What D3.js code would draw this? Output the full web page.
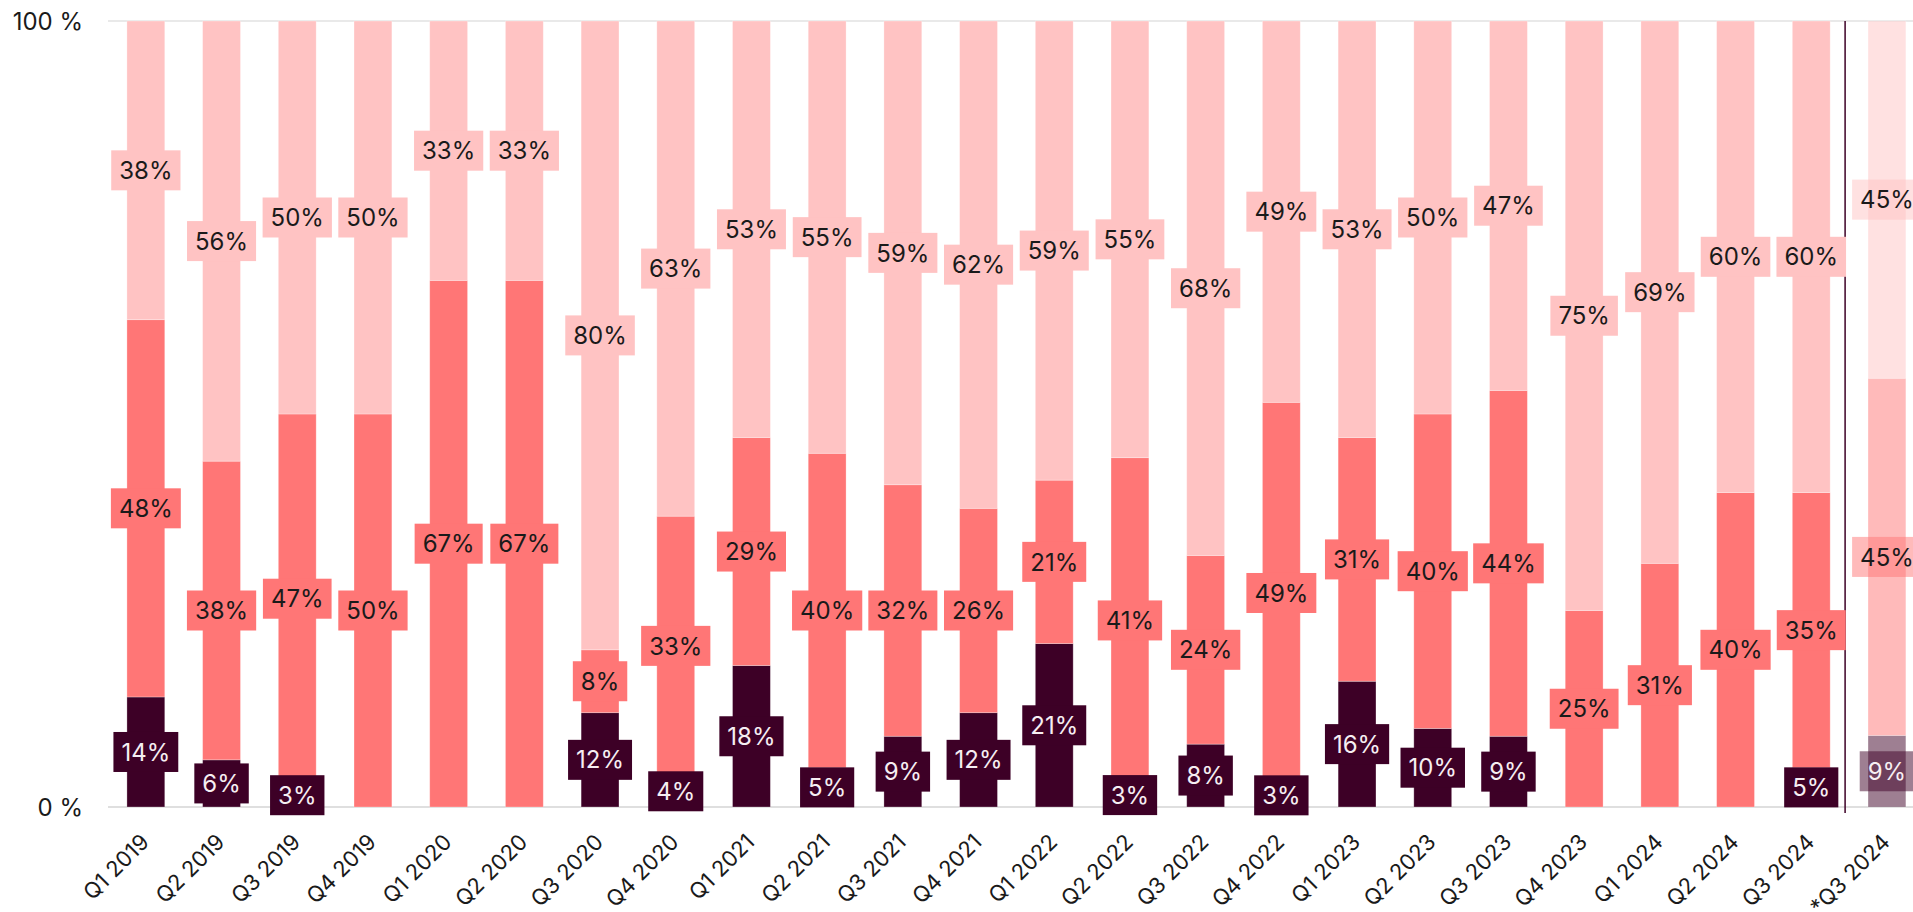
<!DOCTYPE html>
<html>
<head>
<meta charset="utf-8">
<script src="https://cdn.jsdelivr.net/npm/d3@7"></script>
<style>
  html, body { margin: 0; padding: 0; background: #fff; overflow: hidden; }
  svg { display: block; font-family: Inter, "Noto Sans", sans-serif; }
</style>
</head>
<body>
<div id="viz"></div>
<script>
const width = 1913;
const height = 912;
const margin = { top: 21, left: 108, bottom: 105 };
const plotBottom = 807;

const quarters = ['Q1 2019', 'Q2 2019', 'Q3 2019', 'Q4 2019', 'Q1 2020', 'Q2 2020', 'Q3 2020', 'Q4 2020',
  'Q1 2021', 'Q2 2021', 'Q3 2021', 'Q4 2021', 'Q1 2022', 'Q2 2022', 'Q3 2022', 'Q4 2022',
  'Q1 2023', 'Q2 2023', 'Q3 2023', 'Q4 2023', 'Q1 2024', 'Q2 2024', 'Q3 2024', '*Q3 2024'];

// bottom segment (dark), middle segment, top segment (light)
const darkValues  = [14, 6, 3, 0, 0, 0, 12, 4, 18, 5, 9, 12, 21, 3, 8, 3, 16, 10, 9, 0, 0, 0, 5, 9];
const midValues   = [48, 38, 47, 50, 67, 67, 8, 33, 29, 40, 32, 26, 21, 41, 24, 49, 31, 40, 44, 25, 31, 40, 35, 45];
const lightValues = [38, 56, 50, 50, 33, 33, 80, 63, 53, 55, 59, 62, 59, 55, 68, 49, 53, 50, 47, 75, 69, 60, 60, 45];

const yTicks = [0, 1];
const keys = ['dark', 'mid', 'light'];

const rows = quarters.map((q, i) => ({
  quarter: q, dark: darkValues[i], mid: midValues[i], light: lightValues[i]
}));

const series = d3.stack().keys(keys).offset(d3.stackOffsetExpand)(rows);

const color = d3.scaleOrdinal()
  .domain(keys)
  .range(['#3d0026', '#ff7676', '#ffc3c3']);
const textColor = { dark: '#f6eef2', mid: '#1a1a1a', light: '#1a1a1a' };

const x = d3.scaleBand()
  .domain(quarters)
  .range([margin.left, margin.left + 75.7 * quarters.length])
  .paddingInner(0.5)
  .paddingOuter(0.25);

const y = d3.scaleLinear()
  .domain([0, 1])
  .range([plotBottom, margin.top]);

const svg = d3.select('#viz').append('svg')
  .attr('width', width)
  .attr('height', height);

// horizontal lines at 0 % and 100 %
svg.append('g')
  .selectAll('line')
  .data(yTicks)
  .join('line')
    .attr('x1', margin.left)
    .attr('x2', width)
    .attr('y1', d => y(d))
    .attr('y2', d => y(d))
    .attr('stroke', d => d === 0 ? '#d4d4d4' : '#e2e2e2')
    .attr('stroke-width', 1.5);

svg.append('g')
  .selectAll('text')
  .data(yTicks)
  .join('text')
    .attr('x', 83)
    .attr('y', d => y(d))
    .attr('dy', '0.36em')
    .attr('text-anchor', 'end')
    .attr('font-size', 24)
    .attr('fill', '#1a1a1a')
    .text(d => d === 1 ? '100 %' : '0 %');

const isEstimate = q => q.startsWith('*');

// bars
const layers = svg.append('g')
  .selectAll('g')
  .data(series)
  .join('g')
    .attr('fill', d => color(d.key));

layers.selectAll('rect')
  .data(d => d)
  .join('rect')
    .attr('x', d => x(d.data.quarter))
    .attr('y', d => y(d[1]))
    .attr('width', x.bandwidth())
    .attr('height', d => y(d[0]) - y(d[1]))
    .attr('fill-opacity', d => isEstimate(d.data.quarter) ? 0.5 : 1)
    .attr('stroke', '#fff')
    .attr('stroke-opacity', 0.35)
    .attr('stroke-width', 0.8);

// separator before the estimate bar
const lastQ = quarters[quarters.length - 1];
const sepX = x(lastQ) - x.step() * 0.25 - 4;
svg.append('line')
  .attr('x1', sepX)
  .attr('x2', sepX)
  .attr('y1', margin.top)
  .attr('y2', plotBottom + 6)
  .attr('stroke', '#3d0026')
  .attr('stroke-width', 1.5);

// value labels with boxes
const labels = svg.append('g');
series.forEach(s => {
  s.forEach((d, i) => {
    const v = s.key === 'dark' ? darkValues[i] : s.key === 'mid' ? midValues[i] : lightValues[i];
    if (!v) return;
    const cx = x(d.data.quarter) + x.bandwidth() / 2;
    const cy = (y(d[0]) + y(d[1])) / 2;
    const g = labels.append('g').attr('transform', `translate(${cx},${cy})`);
    const box = g.append('rect')
      .attr('fill', color(s.key))
      .attr('fill-opacity', isEstimate(d.data.quarter) ? 0.5 : 1);
    const t = g.append('text')
      .attr('text-anchor', 'middle')
      .attr('dy', '0.36em')
      .attr('font-size', 24)
      .attr('fill', textColor[s.key])
      .text(v + '%');
    const w = t.node().getComputedTextLength() + 16;
    box.attr('x', -w / 2).attr('y', -20).attr('width', w).attr('height', 40);
  });
});

// x axis labels
svg.append('g')
  .selectAll('text')
  .data(quarters)
  .join('text')
    .attr('transform', d => `translate(${x(d) + x.bandwidth() / 2 - 1},${plotBottom + 31}) rotate(-45)`)
    .attr('text-anchor', 'end')
    .attr('dy', '0.35em')
    .attr('font-size', 22)
    .attr('fill', '#1a1a1a')
    .text(d => d);
</script>
</body>
</html>
